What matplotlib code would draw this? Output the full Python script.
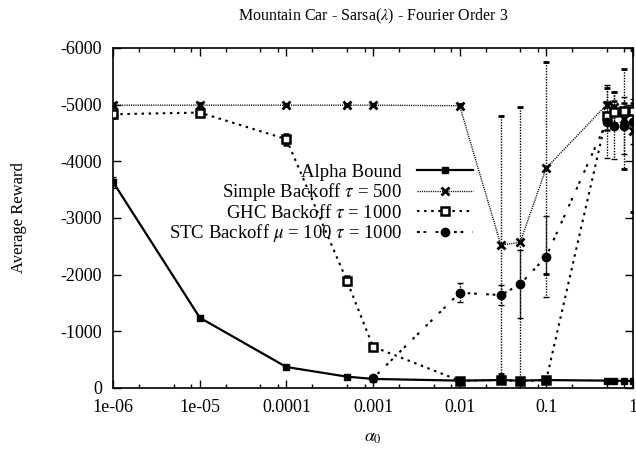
import matplotlib
matplotlib.use("Agg")
import matplotlib.pyplot as plt
from matplotlib.lines import Line2D
from matplotlib.ticker import LogLocator, FixedLocator, NullFormatter

plt.rcParams["font.family"] = ["Liberation Serif", "DejaVu Serif"]
plt.rcParams["mathtext.fontset"] = "stix"

# step sizes (alpha_0)
alpha_x = [1e-6, 1e-5, 1e-4, 5e-4, 1e-3, 0.01, 0.03, 0.05, 0.1, 0.5, 0.6, 0.8, 1.0]
stc_x = [1e-3, 0.01, 0.03, 0.05, 0.1, 0.5, 0.6, 0.8, 1.0]

# average reward per method
alpha_bound = [-3630, -1240, -370, -200, -160, -130, -140, -130, -140, -130, -130, -125, -125]
alpha_bound_err = [100, 30, 20, 20, 20, 20, 20, 20, 20, 20, 20, 20, 20]

simple_backoff = [-4990, -4990, -4990, -4990, -4990, -4980, -2520, -2570, -3880, -5000, -4950, -4750, -4530]
simple_backoff_err = [30, 30, 20, 20, 20, 30, 2280, 2390, 1870, 300, 280, 880, 1430]

ghc_backoff = [-4830, -4860, -4390, -1890, -730, -130, -140, -120, -140, -4800, -4870, -4880, -4880]
ghc_backoff_err = [60, 60, 100, 80, 50, 20, 20, 20, 20, 250, 200, 150, 150]

stc_backoff = [-170, -1680, -1640, -1830, -2320, -4700, -4630, -4630, -4700]
stc_backoff_err = [30, 170, 170, 600, 720, 650, 590, 500, 400]

yticks = [0, -1000, -2000, -3000, -4000, -5000, -6000]
xticks = [1e-6, 1e-5, 1e-4, 1e-3, 1e-2, 1e-1, 1.0]
xticklabels = ["1e-06", "1e-05", "0.0001", "0.001", "0.01", "0.1", "1"]

fig = plt.figure(figsize=(6.36, 4.51), dpi=100)
ax = fig.add_axes([0.178, 0.1397, 0.817, 0.754])

styles = [
    dict(x=alpha_x, y=alpha_bound, e=alpha_bound_err, dashes=None, lw=1.6,
         marker="s", ms=5, mfc="black", mew=1.0, label="Alpha Bound", z=5),
    dict(x=alpha_x, y=simple_backoff, e=simple_backoff_err, dashes=(0.8, 0.8), lw=1.0,
         marker="x", ms=6, mfc="black", mew=2.0, label=r"Simple Backoff $\tau$ = 500", z=3),
    dict(x=alpha_x, y=ghc_backoff, e=ghc_backoff_err, dashes=(1.2, 2.2), lw=1.5,
         marker="s", ms=6, mfc="white", mew=1.8, label=r"GHC Backoff $\tau$ = 1000", z=4),
    dict(x=stc_x, y=stc_backoff, e=stc_backoff_err, dashes=(1.3, 1.8, 1.3, 4.5), lw=1.5,
         marker="o", ms=6, mfc="black", mew=1.0, label=r"STC Backoff $\mu$ = 100 $\tau$ = 1000", z=4),
]

handles = []
for s in styles:
    line, caps, bars = ax.errorbar(s["x"], s["y"], yerr=s["e"], color="black", lw=s["lw"],
                                   marker=s["marker"], ms=s["ms"], mfc=s["mfc"], mec="black",
                                   mew=s["mew"], capsize=2.5, elinewidth=1.0, capthick=1.0,
                                   zorder=s["z"])
    if s["dashes"] is not None:
        line.set_dashes(s["dashes"])
        for b in bars:
            b.set_linestyle((0, (1, 1)))
    h = Line2D([], [], color="black", lw=s["lw"], marker=s["marker"], ms=s["ms"],
               mfc=s["mfc"], mec="black", mew=s["mew"])
    if s["dashes"] is not None:
        h.set_dashes(s["dashes"])
    handles.append(h)

ax.set_xscale("log")
ax.set_xlim(1e-6, 1.0)
ax.set_ylim(0, -6000)
ax.set_yticks(yticks)
ax.set_yticklabels([str(v) for v in yticks])
ax.xaxis.set_major_locator(FixedLocator(xticks))
ax.set_xticklabels(xticklabels)
ax.xaxis.set_minor_locator(LogLocator(base=10, subs=(2.0, 5.0, 8.0), numticks=20))
ax.xaxis.set_minor_formatter(NullFormatter())

ax.tick_params(which="both", direction="in", top=True, right=True, labelsize=13,
               width=1.0, colors="black")
ax.tick_params(which="major", length=6, pad=8)
ax.tick_params(which="minor", length=3)
for sp in ax.spines.values():
    sp.set_linewidth(1.2)

ax.set_title(r"Mountain Car - Sarsa($\lambda$) - Fourier Order 3", fontsize=11.5, pad=20)
ax.set_ylabel("Average Reward", fontsize=12, labelpad=24)
ax.set_xlabel(r"$\alpha_0$", fontsize=13, labelpad=9)

leg = ax.legend(handles, [s["label"] for s in styles], loc="upper right",
                bbox_to_anchor=(0.711, 0.688), frameon=False, fontsize=13.5,
                markerfirst=False, handlelength=3.0, handletextpad=0.8,
                labelspacing=0.03, borderpad=0.0, numpoints=1)
vp = leg._legend_box._children[-1]._children[0]
vp.align = "right"

fig.savefig("out.png", dpi=100)
